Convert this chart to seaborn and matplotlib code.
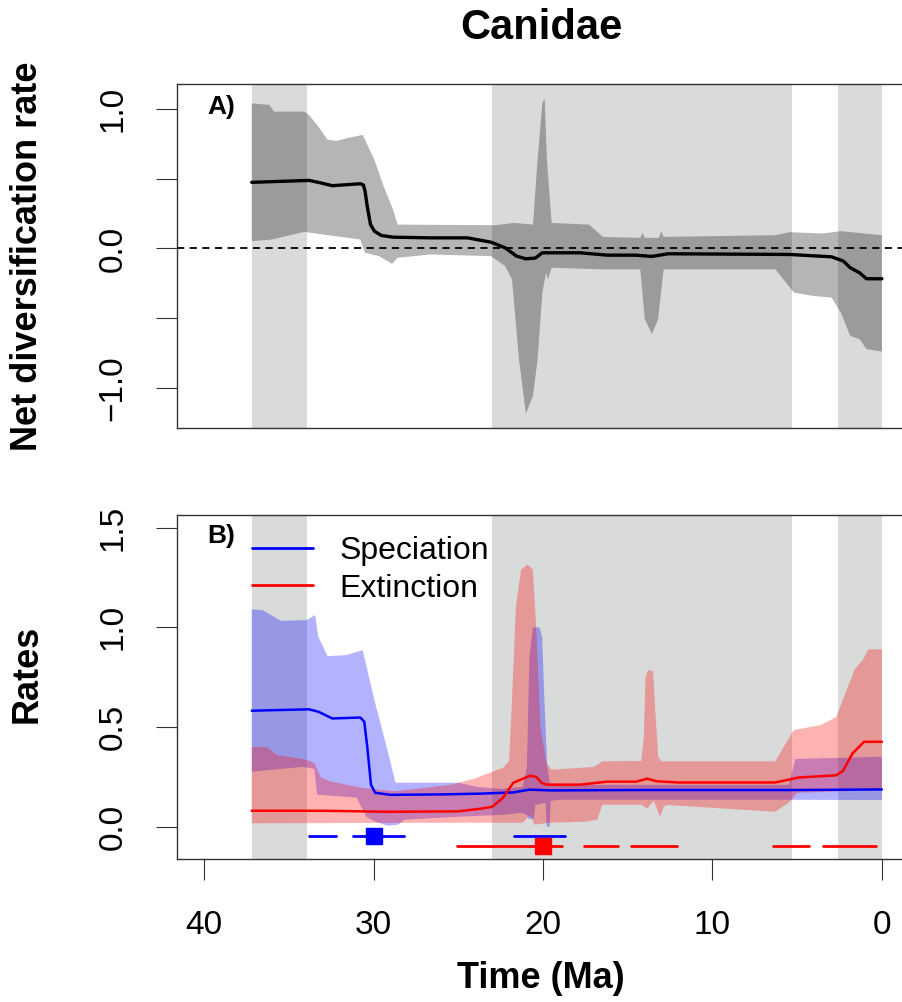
import numpy as np
import pandas as pd
import matplotlib
matplotlib.use("Agg")
import matplotlib.pyplot as plt
from matplotlib.lines import Line2D
import seaborn as sns

# geological intervals shaded in grey (Ma): Priabonian, Miocene, Pleistocene
BANDS = [(37.2, 33.9), (23.03, 5.33), (2.58, 0.0)]

# ---- panel A: net diversification ----
net_t = [37.19, 33.81, 33.26, 32.43, 30.78, 30.6, 30.5, 30.37, 30.18, 29.95, 29.54, 28.85, 26.65,
         24.45, 23.07, 22.24, 21.56, 21.01, 20.45, 20.04, 17.84, 16.19, 14.54, 13.57, 12.61,
         5.45, 2.97, 2.28, 1.87, 1.32, 0.91, 0.0]
net_mean = [0.474, 0.488, 0.474, 0.45, 0.464, 0.455, 0.41, 0.30, 0.171, 0.124, 0.093, 0.081, 0.076,
            0.076, 0.045, 0.005, -0.055, -0.074, -0.069, -0.031, -0.031, -0.048, -0.048, -0.057, -0.038,
            -0.043, -0.06, -0.09, -0.138, -0.174, -0.217, -0.217]

net_hi_t = [37.19, 36.15, 35.87, 34.08, 33.81, 33.26, 32.71, 32.16, 31.60, 30.64, 29.95, 29.40,
            28.85, 28.58, 22.79, 21.69, 20.59, 20.32, 20.04, 19.90, 19.77, 19.49, 17.29, 16.46,
            14.26, 14.12, 13.99, 13.16, 13.02, 12.88, 6.28, 5.45, 3.52, 2.42, 0.0]
net_hi = [1.04, 1.029, 0.981, 0.981, 0.957, 0.874, 0.779, 0.771, 0.79, 0.814, 0.636, 0.445,
          0.279, 0.171, 0.167, 0.183, 0.171, 0.636, 1.04, 1.076, 0.636, 0.183, 0.171, 0.083,
          0.076, 0.112, 0.076, 0.076, 0.124, 0.083, 0.095, 0.117, 0.107, 0.124, 0.095]

net_lo_t = [37.19, 36.01, 34.08, 32.98, 30.78, 30.50, 29.68, 28.91, 28.58, 26.65, 23.07, 22.24,
            21.83, 21.42, 21.01, 20.59, 20.32, 20.04, 19.82, 19.71, 19.49, 16.46, 14.26, 13.99,
            13.57, 13.21, 12.88, 6.28, 5.18, 4.07, 2.97, 2.42, 1.87, 1.32, 0.91, 0.0]
net_lo = [0.052, 0.064, 0.119, 0.10, 0.064, -0.031, -0.055, -0.11, -0.067, -0.043, -0.055, -0.126,
          -0.221, -0.793, -1.186, -1.055, -0.793, -0.317, -0.174, -0.221, -0.138, -0.15, -0.15, -0.507,
          -0.614, -0.507, -0.15, -0.15, -0.317, -0.34, -0.352, -0.46, -0.626, -0.65, -0.721, -0.74]

# ---- panel B: speciation / extinction ----
spec_t = [37.19, 33.81, 33.26, 32.43, 30.78, 30.55, 30.37, 30.15, 29.9, 29.0, 26.0, 23.7,
          21.76, 20.8, 19.5, 14.5, 5.45, 0.0]
spec_mean = [0.582, 0.589, 0.577, 0.543, 0.548, 0.527, 0.40, 0.21, 0.17, 0.16, 0.162, 0.166,
             0.172, 0.186, 0.182, 0.184, 0.184, 0.187]

spec_hi_t = [37.19, 36.56, 35.46, 33.94, 33.45, 33.26, 32.71, 31.60, 30.64, 29.95, 29.13, 28.71,
             25.0, 23.9, 22.5, 21.2, 20.95, 20.8, 20.6, 20.2, 20.05, 19.9, 19.75, 19.6,
             19.0, 5.5, 5.1, 0.0]
spec_hi = [1.09, 1.087, 1.033, 1.037, 1.062, 0.953, 0.856, 0.861, 0.886, 0.635, 0.368, 0.221,
           0.221, 0.20, 0.19, 0.20, 0.30, 0.85, 1.0, 1.0, 0.95, 0.6, 0.3, 0.22,
           0.21, 0.21, 0.34, 0.351]

spec_lo_t = [37.19, 35.5, 34.2, 33.5, 33.33, 31.0, 30.43, 29.94, 29.15, 28.56, 28.17, 25.0,
             22.3, 21.3, 20.95, 20.85, 20.55, 20.45, 19.85, 19.78, 19.6, 19.55, 19.0, 5.5, 0.0]
spec_lo = [0.276, 0.29, 0.30, 0.29, 0.161, 0.146, 0.05, 0.027, 0.005, 0.01, 0.035, 0.05,
           0.06, 0.07, 0.06, 0.04, 0.04, 0.11, 0.12, 0.0, 0.0, 0.13, 0.135, 0.135, 0.134]

ext_t = [37.19, 33.0, 29.0, 25.0, 23.73, 23.0, 22.35, 21.76, 20.77, 20.4, 20.08, 19.78,
         17.81, 16.23, 14.5, 13.86, 13.3, 12.0, 6.3, 4.9, 2.7, 2.3, 1.73, 1.05, 0.0]
ext_mean = [0.08, 0.08, 0.075, 0.077, 0.09, 0.10, 0.146, 0.22, 0.256, 0.25, 0.22, 0.211,
            0.211, 0.226, 0.226, 0.241, 0.228, 0.222, 0.222, 0.247, 0.258, 0.28, 0.368, 0.426, 0.426]

ext_hi_t = [37.19, 36.3, 35.7, 34.0, 33.49, 33.1, 32.5, 30.73, 28.76, 25.4, 23.85, 23.7,
            22.35, 22.0, 21.85, 21.6, 21.3, 20.9, 20.6, 20.4, 20.15, 19.8, 19.5, 17.0,
            16.5, 14.2, 14.05, 13.95, 13.8, 13.5, 13.35, 13.2, 13.0, 6.3, 5.8, 5.2,
            3.6, 2.7, 2.15, 1.6, 1.1, 0.8, 0.0]
ext_hi = [0.40, 0.40, 0.36, 0.337, 0.32, 0.246, 0.226, 0.196, 0.178, 0.211, 0.246, 0.253,
          0.296, 0.33, 0.6, 1.1, 1.29, 1.315, 1.29, 1.0, 0.5, 0.32, 0.286, 0.30,
          0.328, 0.33, 0.45, 0.75, 0.786, 0.78, 0.55, 0.35, 0.328, 0.328, 0.40, 0.485,
          0.51, 0.55, 0.67, 0.79, 0.84, 0.89, 0.89]

ext_lo_t = [37.19, 25.0, 21.2, 20.75, 20.5, 19.6, 17.5, 16.8, 16.5, 14.2, 13.86, 13.47,
            13.08, 12.88, 12.7, 6.3, 5.5, 5.0, 0.0]
ext_lo = [0.017, 0.02, 0.02, 0.06, 0.01, 0.02, 0.025, 0.035, 0.11, 0.11, 0.09, 0.13,
          0.05, 0.10, 0.109, 0.075, 0.12, 0.17, 0.185]

# shift-time estimates (segments and mode)
spec_seg = [(33.8, 32.2), (31.2, 28.2), (21.7, 18.7)]
spec_mode = 30.0
ext_seg = [(25.1, 18.9), (17.6, 15.6), (14.8, 12.1), (6.4, 4.3), (3.5, 0.36)]
ext_mode = 20.0

BLUE = "#0000ff"
RED = "#ff0000"
BAND = "#d9dbdb"
AXC = "#333333"

sns.set_theme(style="white")
plt.rcParams["font.family"] = ["Liberation Sans", "DejaVu Sans"]
plt.rcParams["text.color"] = "black"
plt.rcParams["xtick.color"] = "black"
plt.rcParams["ytick.color"] = "black"
plt.rcParams["axes.labelcolor"] = "black"

W, H = 902, 1002
fig = plt.figure(figsize=(W / 100, H / 100), dpi=100)
ax1 = fig.add_axes([177 / W, 1 - 428 / H, 732 / W, 344 / H])
ax2 = fig.add_axes([177 / W, 1 - 859 / H, 732 / W, 344 / H])


def band_shade(ax):
    for a, b in BANDS:
        ax.axvspan(a, b, color=BAND, lw=0, zorder=0)


def ci(ax, t_hi, hi, t_lo, lo, color, alpha):
    xs = np.r_[np.asarray(t_hi), np.asarray(t_lo)[::-1]]
    ys = np.r_[np.asarray(hi), np.asarray(lo)[::-1]]
    ax.fill(xs, ys, color=color, alpha=alpha, lw=0, zorder=1)


def style_axes(ax):
    for s in ax.spines.values():
        s.set_color(AXC)
        s.set_linewidth(1.0)
    ax.tick_params(axis="y", left=True, length=15, width=0.8, color=AXC,
                   labelsize=24, pad=20, labelrotation=90, labelcolor="black")
    plt.setp(ax.get_yticklabels(), va="center")
    ax.set_xlim(41.6, -1.6)


# panel A
band_shade(ax1)
ci(ax1, net_hi_t, net_hi, net_lo_t, net_lo, "black", 0.29)
sns.lineplot(data=pd.DataFrame({"t": net_t, "v": net_mean}), x="t", y="v",
             ax=ax1, color="black", lw=2.4, legend=False, zorder=3)
ax1.axhline(0, color="black", lw=1.3, dashes=(4, 3), zorder=4)
ax1.set_ylim(-1.287, 1.179)
ax1.set_yticks([-1.0, -0.5, 0.0, 0.5, 1.0])
ax1.set_yticklabels(["\u22121.0", "", "0.0", "", "1.0"])
ax1.tick_params(axis="x", bottom=False, labelbottom=False)
ax1.set_xlabel("")
ax1.set_ylabel("")
style_axes(ax1)

# panel B
band_shade(ax2)
ci(ax2, spec_hi_t, spec_hi, spec_lo_t, spec_lo, BLUE, 0.3)
sns.lineplot(data=pd.DataFrame({"t": spec_t, "v": spec_mean}), x="t", y="v",
             ax=ax2, color=BLUE, lw=1.8, legend=False, zorder=2)
ci(ax2, ext_hi_t, ext_hi, ext_lo_t, ext_lo, RED, 0.3)
sns.lineplot(data=pd.DataFrame({"t": ext_t, "v": ext_mean}), x="t", y="v",
             ax=ax2, color=RED, lw=1.8, legend=False, zorder=3)

for a, b in spec_seg:
    ax2.plot([a, b], [-0.047, -0.047], color=BLUE, lw=2.0, solid_capstyle="round", zorder=4)
ax2.plot([spec_mode], [-0.047], marker="s", ms=11, color=BLUE, lw=0, zorder=5)
for a, b in ext_seg:
    ax2.plot([a, b], [-0.097, -0.097], color=RED, lw=2.0, solid_capstyle="round", zorder=4)
ax2.plot([ext_mode], [-0.097], marker="s", ms=11, color=RED, lw=0, zorder=5)

ax2.set_ylim(-0.162, 1.564)
ax2.set_yticks([0.0, 0.5, 1.0, 1.5])
ax2.set_yticklabels(["0.0", "0.5", "1.0", "1.5"])
ax2.set_xticks([40, 30, 20, 10, 0])
ax2.set_xticklabels(["40", "30", "20", "10", "0"])
ax2.tick_params(axis="x", bottom=True, length=15, width=0.8, color=AXC, labelsize=24, pad=22,
                labelcolor="black")
ax2.set_xlabel("")
ax2.set_ylabel("")
style_axes(ax2)

handles = [Line2D([], [], color=BLUE, lw=2.0), Line2D([], [], color=RED, lw=2.0)]
ax2.legend(handles, ["Speciation", "Extinction"], loc="upper left",
           bbox_to_anchor=((252 - 177) / 732, (859 - 536) / 344), frameon=False,
           fontsize=23, handlelength=1.9, handletextpad=0.85, labelspacing=0.24,
           borderaxespad=0.0, borderpad=0.0, labelcolor="black")

# text
fig.text(541 / W, 1 - 28 / H, "Canidae", ha="center", va="center", fontsize=30, fontweight="bold")
fig.text(28 / W, 1 - 256 / H, "Net diversification rate", rotation=90, ha="center", va="center",
         fontsize=26, fontweight="bold")
fig.text(27 / W, 1 - 674 / H, "Rates", rotation=90, ha="center", va="center",
         fontsize=26, fontweight="bold")
fig.text(541 / W, 1 - 979 / H, "Time (Ma)", ha="center", va="center", fontsize=26, fontweight="bold")
fig.text(207 / W, 1 - 107 / H, "A)", ha="left", va="center", fontsize=19, fontweight="bold")
fig.text(207 / W, 1 - 536 / H, "B)", ha="left", va="center", fontsize=19, fontweight="bold")

fig.savefig("out.png", dpi=100)
